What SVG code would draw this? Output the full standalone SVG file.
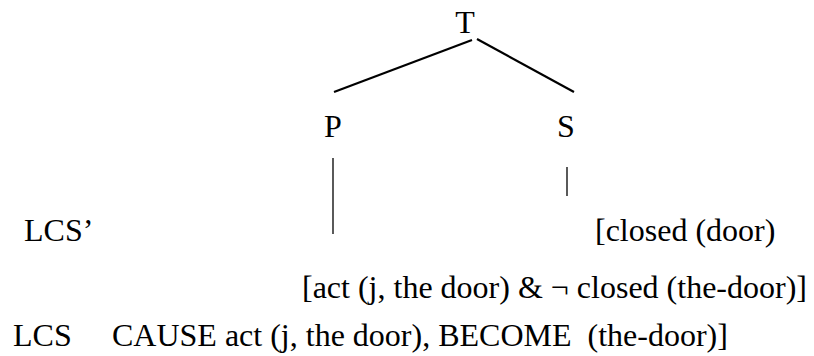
<svg xmlns="http://www.w3.org/2000/svg" width="814" height="356" viewBox="0 0 814 356">
<style>
text { font-family: "Liberation Serif", "Times New Roman", serif; font-size: 32px; fill: #000; white-space: pre; }
.edge { stroke: #000; stroke-width: 2.2; fill: none; }
.vline { stroke: #000; stroke-width: 1.3; fill: none; }
</style>
<rect width="814" height="356" fill="#fff"/>
<g id="connectors">
<line class="edge" x1="334" y1="92" x2="472" y2="40"/>
<line class="edge" x1="477" y1="39" x2="574" y2="92"/>
<line class="vline" x1="333" y1="158" x2="333" y2="234"/>
<line class="vline" x1="567" y1="167" x2="567" y2="196" stroke="#444"/>
</g>
<g id="node-T"><text x="465" y="33" text-anchor="middle">T</text></g>
<g id="node-P"><text x="333" y="137" text-anchor="middle">P</text></g>
<g id="node-S"><text x="566" y="137" text-anchor="middle">S</text></g>
<g id="label-lcs-prime"><text x="24" y="241">LCS’</text></g>
<g id="label-closed"><text x="595" y="241">[closed (door)</text></g>
<g id="label-act"><text x="302" y="298">[act (j, the door) &amp; ¬ closed (the-door)]</text></g>
<g id="label-lcs">
<text x="13" y="346">LCS</text>
<text x="112" y="346">CAUSE act (j, the door), BECOME  (the-door)]</text>
</g>
</svg>
